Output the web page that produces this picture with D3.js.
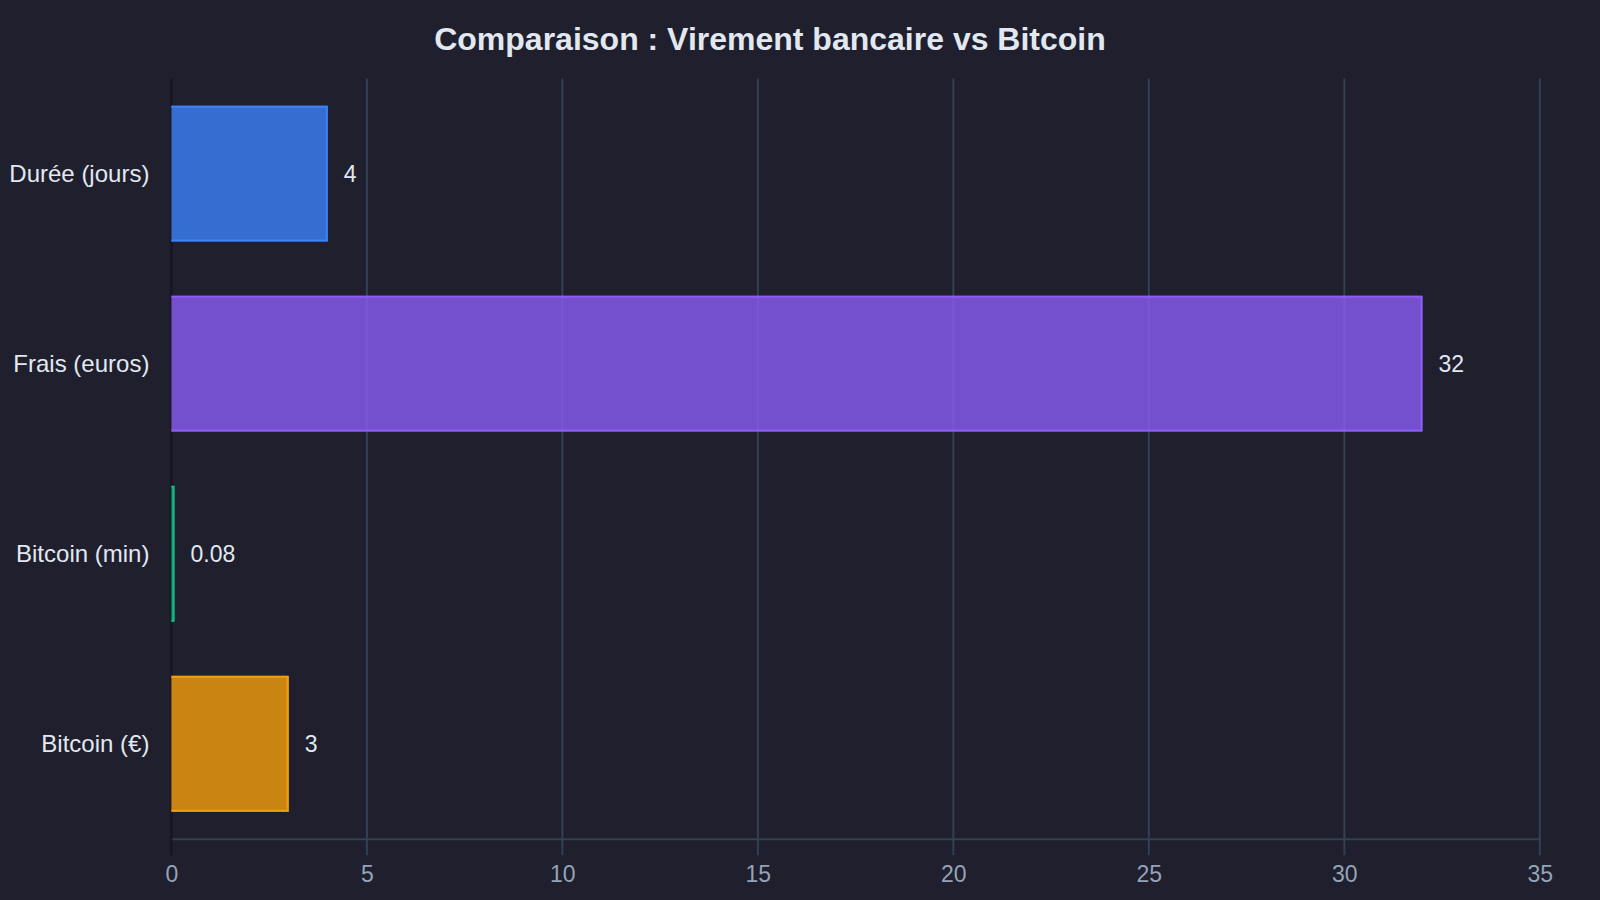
<!DOCTYPE html>
<html>
<head>
<meta charset="utf-8">
<script src="https://cdn.jsdelivr.net/npm/d3@7"></script>
<style>
  html, body { margin: 0; padding: 0; background: #1f1f2e; }
  svg { display: block; font-family: "Liberation Sans", Arial, sans-serif; }
</style>
</head>
<body>
<div id="chart"></div>
<script>
// Données
const categories = ["Durée (jours)", "Frais (euros)", "Bitcoin (min)", "Bitcoin (€)"];
const valeurs = [4, 32, 0.08, 3];
const etiquettes = ["4", "32", "0.08", "3"];
const couleurs = ["#3b82f6", "#8b5cf6", "#10b981", "#f59e0b"];
const ticksX = [0, 5, 10, 15, 20, 25, 30, 35];
const titre = "Comparaison : Virement bancaire vs Bitcoin";

const width = 1600;
const height = 900;
const margin = { top: 78.6, right: 60.2, bottom: 61.2, left: 171.4 };

const svg = d3.select("#chart")
    .append("svg")
    .attr("width", width)
    .attr("height", height);

svg.append("rect")
    .attr("width", width)
    .attr("height", height)
    .attr("fill", "#1f1f2e");

const x = d3.scaleLinear()
    .domain([0, 35])
    .range([margin.left, width - margin.right]);

const y = d3.scaleBand()
    .domain(categories)
    .range([margin.top, height - margin.bottom])
    .paddingInner(0.285)
    .paddingOuter(0.1425);

// grille verticale
svg.append("g")
    .selectAll("line")
    .data(ticksX.filter(d => d > 0))
    .join("line")
    .attr("x1", d => x(d))
    .attr("x2", d => x(d))
    .attr("y1", margin.top)
    .attr("y2", height - margin.bottom + 16.5)
    .attr("stroke", "#334155")
    .attr("stroke-width", 2);

// axe X
const xAxis = svg.append("g")
    .attr("transform", `translate(0,${height - margin.bottom})`)
    .call(d3.axisBottom(x).tickValues(ticksX).tickSize(0).tickPadding(27).tickFormat(d3.format("d")));
xAxis.select(".domain").attr("stroke", "#334155").attr("stroke-width", 2);
xAxis.selectAll("text")
    .attr("fill", "#94a3b8")
    .attr("font-size", 23)
    .attr("font-family", "Liberation Sans, Arial, sans-serif");

// ligne zéro
svg.append("line")
    .attr("x1", x(0))
    .attr("x2", x(0))
    .attr("y1", margin.top)
    .attr("y2", height - margin.bottom + 16.5)
    .attr("stroke", "#15151e")
    .attr("stroke-width", 2);

// barres
const barres = svg.append("g")
    .selectAll("g")
    .data(categories)
    .join("g");

barres.append("rect")
    .attr("x", x(0))
    .attr("y", d => y(d))
    .attr("width", (d, i) => x(valeurs[i]) - x(0))
    .attr("height", y.bandwidth())
    .attr("fill", (d, i) => couleurs[i])
    .attr("fill-opacity", 0.8);

barres.append("path")
    .attr("d", (d, i) => {
        const x0 = x(0), x1 = x(valeurs[i]) - 1, y0 = y(d) + 1, y1 = y(d) + y.bandwidth() - 1;
        return `M${x0},${y0}H${x1}V${y1}H${x0}`;
    })
    .attr("fill", "none")
    .attr("stroke", (d, i) => couleurs[i])
    .attr("stroke-width", 2);

// valeurs
barres.append("text")
    .attr("x", (d, i) => x(valeurs[i]) + 16)
    .attr("y", d => y(d) + y.bandwidth() / 2)
    .attr("dy", "0.35em")
    .attr("fill", "#e2e8f0")
    .attr("font-size", 23)
    .text((d, i) => etiquettes[i]);

// axe Y (libellés)
svg.append("g")
    .selectAll("text")
    .data(categories)
    .join("text")
    .attr("x", margin.left - 22)
    .attr("y", d => y(d) + y.bandwidth() / 2)
    .attr("dy", "0.35em")
    .attr("text-anchor", "end")
    .attr("fill", "#e2e8f0")
    .attr("font-size", 24)
    .text(d => d);

// titre
svg.append("text")
    .attr("x", 770)
    .attr("y", 39)
    .attr("dy", "0.35em")
    .attr("text-anchor", "middle")
    .attr("fill", "#e2e8f0")
    .attr("font-size", 32)
    .attr("font-weight", "bold")
    .text(titre);
</script>
</body>
</html>
